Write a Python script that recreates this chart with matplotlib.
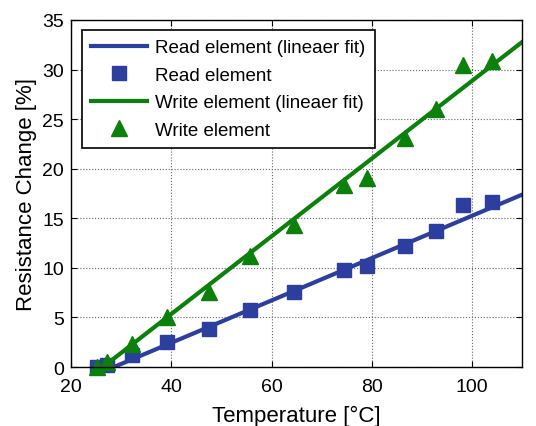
import numpy as np
import matplotlib
matplotlib.use("Agg")
import matplotlib.pyplot as plt

plt.rcParams['font.family'] = ['Liberation Sans', 'DejaVu Sans']

# measured points
temp = [25.2, 27.1, 32.2, 39.1, 47.6, 55.7, 64.4, 74.4, 79.0, 86.7, 92.7, 98.1, 104.0]
read_change = [0.0, 0.2, 1.25, 2.5, 3.85, 5.8, 7.6, 9.75, 10.2, 12.25, 13.75, 16.3, 16.6]
write_change = [0.0, 0.5, 2.35, 5.0, 7.6, 11.2, 14.3, 18.4, 19.1, 23.1, 26.0, 30.5, 30.9]

# linear fits (slope, intercept)
read_fit = (0.2135, -6.09)
write_fit = (0.392, -10.33)
fit_range = [25.0, 110.0]

blue = '#2c3f9f'
green = '#0b800b'

fig = plt.figure(figsize=(5.36, 4.27), dpi=100)
ax = fig.add_axes([0.1325, 0.138, 0.842, 0.813])

xf = np.array(fit_range)
ax.plot(xf, read_fit[0] * xf + read_fit[1], color=blue, lw=3,
        label='Read element (lineaer fit)')
ax.plot(temp, read_change, 's', color=blue, ms=10, clip_on=False,
        label='Read element')
ax.plot(xf, write_fit[0] * xf + write_fit[1], color=green, lw=3,
        label='Write element (lineaer fit)')
ax.plot(temp, write_change, '^', color=green, ms=11, clip_on=False,
        label='Write element')

ax.set_xlim(20, 110)
ax.set_ylim(0, 35)
ax.set_xticks([20, 40, 60, 80, 100])
ax.set_yticks(range(0, 36, 5))
ax.grid(True, color='#666666', ls=':', lw=0.8)
ax.tick_params(direction='in', top=True, right=True, labelsize=14, length=4)
ax.tick_params(axis='x', pad=8)
ax.tick_params(axis='y', pad=5)
for s in ax.spines.values():
    s.set_linewidth(1.0)

ax.set_xlabel('Temperature [°C]', fontsize=16, labelpad=7)
ax.set_ylabel('Resistance Change [%]', fontsize=16, labelpad=4)

leg = ax.legend(loc='upper left', bbox_to_anchor=(0.024, 0.971), borderaxespad=0,
                fontsize=13.5, fancybox=False, edgecolor='black', framealpha=1,
                handlelength=3.0, handletextpad=0.4, labelspacing=0.55,
                borderpad=0.5)
leg.get_frame().set_linewidth(1.2)

fig.savefig('out.png', dpi=100)
